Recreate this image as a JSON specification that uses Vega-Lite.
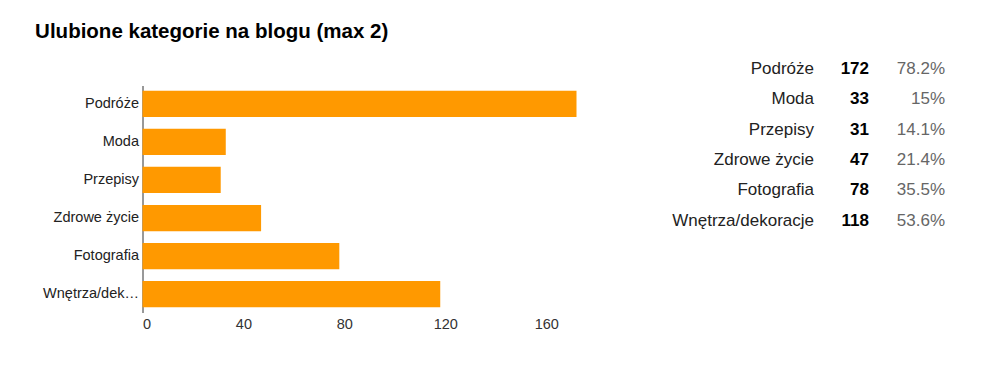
{
  "$schema": "https://vega.github.io/schema/vega-lite/v6.json",
  "padding": {"left": 34.5, "top": 21.5, "right": 10, "bottom": 10},
  "background": "white",
  "config": {"font": "Liberation Sans", "view": {"stroke": null}},
  "title": {"text": "Ulubione kategorie na blogu (max 2)", "anchor": "start", "fontSize": 20.5, "fontWeight": "bold", "color": "#000", "offset": 17.5, "dx": -7.5, "font": "Liberation Sans"},
  "data": {"values": [
    {"kategoria": "Podróże", "liczba": 172, "procent": 0.782},
    {"kategoria": "Moda", "liczba": 33, "procent": 0.15},
    {"kategoria": "Przepisy", "liczba": 31, "procent": 0.141},
    {"kategoria": "Zdrowe życie", "liczba": 47, "procent": 0.214},
    {"kategoria": "Fotografia", "liczba": 78, "procent": 0.355},
    {"kategoria": "Wnętrza/dekoracje", "liczba": 118, "procent": 0.536}
  ]},
  "spacing": 95.5,
  "hconcat": [
    {
      "width": 434,
      "height": 227,
      "mark": {"type": "bar", "color": "#FF9900"},
      "encoding": {
        "y": {"field": "kategoria", "type": "nominal", "sort": null,
          "scale": {"paddingInner": 0.31, "paddingOuter": 0.14},
          "axis": {"title": null, "ticks": false, "labelPadding": 4, "labelFontSize": 14.5, "labelColor": "#222", "labelLimit": 100, "domainColor": "#333", "grid": false}},
        "x": {"field": "liczba", "type": "quantitative",
          "scale": {"domain": [0, 172]},
          "axis": {"title": null, "values": [0, 40, 80, 120, 160], "domain": false, "ticks": false, "grid": false, "labelPadding": 5, "labelFontSize": 14.5, "labelColor": "#333"}}
      }
    },
    {
      "width": 131,
      "height": 152,
      "encoding": {
        "y": {"field": "kategoria", "type": "nominal", "sort": null, "scale": {"type": "point", "padding": 0}, "axis": null}
      },
      "layer": [
        {
          "mark": {"type": "text", "align": "right", "baseline": "middle", "fontSize": 17, "color": "#222", "dy": -16.7},
          "encoding": {
            "x": {"datum": "odpowiedź", "type": "nominal", "scale": {"type": "point", "domain": ["odpowiedź", "liczba", "procent"], "padding": 0}, "axis": null},
            "text": {"field": "kategoria", "type": "nominal"}
          }
        },
        {
          "mark": {"type": "text", "align": "right", "baseline": "middle", "fontSize": 17, "fontWeight": "bold", "color": "#000", "dy": -16.7, "dx": -10.5},
          "encoding": {
            "x": {"datum": "liczba", "type": "nominal"},
            "text": {"field": "liczba", "type": "quantitative", "format": "d"}
          }
        },
        {
          "mark": {"type": "text", "align": "right", "baseline": "middle", "fontSize": 17, "color": "#666", "dy": -16.7},
          "encoding": {
            "x": {"datum": "procent", "type": "nominal"},
            "text": {"field": "procent", "type": "quantitative", "format": ".3~%"}
          }
        }
      ]
    }
  ]
}
